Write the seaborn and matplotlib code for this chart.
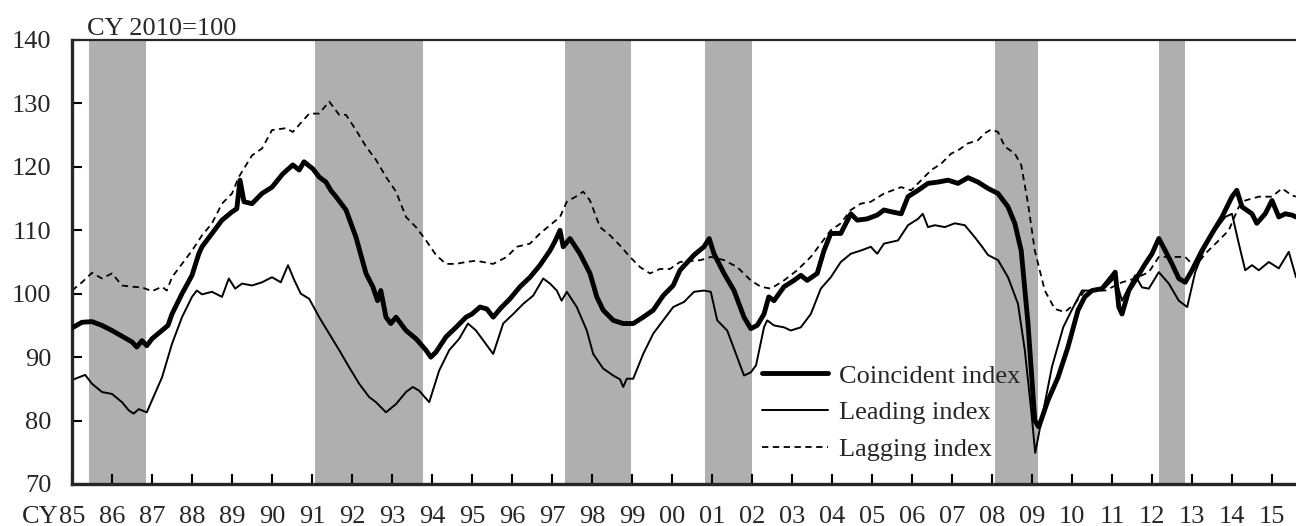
import numpy as np
import pandas as pd
import matplotlib
matplotlib.use("Agg")
import matplotlib.pyplot as plt
import seaborn as sns

# coincident index (decimal year, value)
coin_year = [1985.0, 1985.25, 1985.5, 1985.75, 1986.0, 1986.25, 1986.5, 1986.62, 1986.75, 1986.87,
             1987.0, 1987.25, 1987.4, 1987.5, 1987.75, 1988.0, 1988.17, 1988.25, 1988.5, 1988.75,
             1989.0, 1989.12, 1989.2, 1989.3, 1989.5, 1989.75, 1990.0, 1990.27, 1990.52, 1990.68,
             1990.8, 1991.02, 1991.18, 1991.35, 1991.47, 1991.6, 1991.85, 1992.1, 1992.35, 1992.52,
             1992.64, 1992.72, 1992.85, 1992.97, 1993.1, 1993.35, 1993.6, 1993.85, 1993.97, 1994.1,
             1994.35, 1994.6, 1994.85, 1995.0, 1995.2, 1995.37, 1995.53, 1995.7, 1995.95, 1996.2,
             1996.45, 1996.7, 1996.95, 1997.07, 1997.2, 1997.28, 1997.45, 1997.7, 1997.95, 1998.12,
             1998.28, 1998.53, 1998.78, 1999.03, 1999.28, 1999.53, 1999.78, 2000.03, 2000.2, 2000.55,
             2000.8, 2000.93, 2001.05, 2001.3, 2001.55, 2001.8, 2001.97, 2002.13, 2002.3, 2002.42,
             2002.55, 2002.8, 2003.05, 2003.22, 2003.38, 2003.63, 2003.8, 2003.97, 2004.22, 2004.47,
             2004.63, 2004.88, 2005.13, 2005.3, 2005.5, 2005.73, 2005.9, 2006.15, 2006.4, 2006.65,
             2006.9, 2007.15, 2007.4, 2007.65, 2007.9, 2008.15, 2008.4, 2008.57, 2008.73, 2008.9,
             2009.07, 2009.17, 2009.4, 2009.65, 2009.9, 2010.15, 2010.32, 2010.5, 2010.75, 2010.92,
             2011.08, 2011.17, 2011.25, 2011.42, 2011.58, 2011.83, 2012.0, 2012.17, 2012.33, 2012.5,
             2012.67, 2012.83, 2013.0, 2013.25, 2013.5, 2013.75, 2014.0, 2014.12, 2014.25, 2014.5,
             2014.62, 2014.83, 2015.0, 2015.17, 2015.33, 2015.5, 2015.6]
coin_val = [94.6, 95.5, 95.6, 95.0, 94.2, 93.3, 92.4, 91.6, 92.6, 91.8,
            92.9, 94.2, 95.0, 96.8, 100.0, 102.9, 106.3, 107.4, 109.5, 111.6,
            112.9, 113.4, 117.9, 114.5, 114.2, 115.8, 116.8, 118.9, 120.3, 119.5,
            120.8, 119.7, 118.4, 117.6, 116.3, 115.3, 113.2, 108.9, 103.2, 101.1,
            98.9, 100.5, 96.3, 95.3, 96.3, 94.2, 92.9, 91.1, 90.0, 90.8,
            93.2, 94.7, 96.3, 96.8, 97.9, 97.6, 96.3, 97.6, 99.2, 101.1,
            102.6, 104.5, 106.8, 108.2, 110.0, 107.4, 108.7, 106.3, 103.2, 99.5,
            97.4, 95.8, 95.3, 95.3, 96.3, 97.4, 99.7, 101.3, 103.7, 106.1,
            107.4, 108.7, 106.3, 103.2, 100.5, 96.3, 94.5, 95.0, 96.8, 99.5,
            98.9, 101.1, 102.1, 102.9, 102.1, 103.2, 106.8, 109.5, 109.5, 112.6,
            111.6, 111.8, 112.4, 113.2, 112.9, 112.6, 115.3, 116.3, 117.4, 117.6,
            117.9, 117.4, 118.3, 117.6, 116.6, 115.8, 113.7, 111.1, 106.8, 95.3,
            80.0, 79.0, 83.2, 86.8, 91.6, 97.4, 99.5, 100.5, 100.8, 102.1,
            103.4, 97.9, 96.8, 100.5, 102.1, 104.7, 106.3, 108.7, 106.8, 104.7,
            102.4, 101.8, 103.7, 106.8, 109.5, 112.1, 115.3, 116.3, 113.7, 112.6,
            111.1, 112.6, 114.7, 112.1, 112.6, 112.4, 112.1]

# leading index
lead_year = [1985.0, 1985.33, 1985.5, 1985.75, 1986.0, 1986.25, 1986.42, 1986.54, 1986.67, 1986.87,
             1987.0, 1987.25, 1987.5, 1987.75, 1988.0, 1988.12, 1988.25, 1988.5, 1988.75, 1988.92,
             1989.08, 1989.25, 1989.5, 1989.75, 1990.0, 1990.22, 1990.4, 1990.56, 1990.72, 1990.93,
             1991.18, 1991.43, 1991.68, 1991.93, 1992.18, 1992.43, 1992.6, 1992.85, 1993.1, 1993.35,
             1993.52, 1993.68, 1993.93, 1994.18, 1994.43, 1994.68, 1994.9, 1995.1, 1995.53, 1995.78,
             1996.03, 1996.28, 1996.53, 1996.78, 1996.95, 1997.12, 1997.24, 1997.37, 1997.62, 1997.87,
             1998.03, 1998.28, 1998.53, 1998.7, 1998.78, 1998.87, 1999.03, 1999.28, 1999.53, 1999.78,
             2000.03, 2000.3, 2000.55, 2000.8, 2000.97, 2001.13, 2001.38, 2001.63, 2001.8, 2001.97,
             2002.1, 2002.3, 2002.38, 2002.55, 2002.8, 2002.97, 2003.22, 2003.47, 2003.72, 2003.97,
             2004.22, 2004.47, 2004.72, 2004.97, 2005.13, 2005.3, 2005.65, 2005.9, 2006.15, 2006.27,
             2006.4, 2006.57, 2006.82, 2007.07, 2007.32, 2007.57, 2007.73, 2007.9, 2008.15, 2008.4,
             2008.65, 2008.82, 2008.98, 2009.08, 2009.25, 2009.5, 2009.78, 2010.0, 2010.25, 2010.5,
             2010.83, 2011.08, 2011.25, 2011.42, 2011.58, 2011.75, 2011.92, 2012.17, 2012.42, 2012.67,
             2012.88, 2013.08, 2013.33, 2013.58, 2013.83, 2014.0, 2014.17, 2014.33, 2014.5, 2014.67,
             2014.92, 2015.17, 2015.42, 2015.6]
lead_val = [86.4, 87.2, 85.8, 84.5, 84.2, 82.9, 81.6, 81.1, 81.8, 81.3,
            83.2, 86.8, 92.1, 96.3, 99.5, 100.5, 99.9, 100.3, 99.5, 102.4,
            100.8, 101.6, 101.3, 101.8, 102.6, 101.8, 104.5, 102.1, 100.0, 99.2,
            96.3, 93.7, 91.1, 88.4, 85.8, 83.7, 82.9, 81.3, 82.6, 84.5,
            85.3, 84.7, 82.9, 87.9, 91.1, 92.9, 95.3, 94.2, 90.5, 95.3,
            96.8, 98.4, 99.7, 102.4, 101.6, 100.5, 98.9, 100.3, 97.9, 94.2,
            90.5, 88.2, 87.1, 86.5, 85.3, 86.6, 86.6, 90.5, 93.7, 95.8,
            97.9, 98.7, 100.3, 100.5, 100.3, 95.8, 94.2, 90.0, 87.1, 87.6,
            88.7, 94.7, 95.8, 95.0, 94.7, 94.2, 94.7, 96.8, 100.8, 102.6,
            105.0, 106.3, 106.8, 107.4, 106.3, 107.9, 108.4, 110.8, 111.8, 112.6,
            110.5, 110.8, 110.5, 111.1, 110.8, 108.9, 107.6, 106.1, 105.3, 102.6,
            98.4, 91.1, 81.6, 74.9, 80.5, 88.5, 94.7, 97.5, 100.5, 100.5,
            101.0, 102.6, 98.9, 101.0, 102.9, 101.0, 100.8, 103.4, 101.6, 98.9,
            97.9, 103.4, 107.4, 110.0, 112.1, 112.6, 107.9, 103.7, 104.5, 103.7,
            105.0, 104.0, 106.6, 102.6]

# lagging index
lag_year = [1985.0, 1985.25, 1985.5, 1985.75, 1986.0, 1986.25, 1986.5, 1986.75, 1987.0, 1987.25,
            1987.37, 1987.5, 1987.75, 1988.0, 1988.25, 1988.5, 1988.75, 1989.0, 1989.17, 1989.5,
            1989.75, 1990.0, 1990.35, 1990.52, 1990.93, 1991.18, 1991.43, 1991.68, 1991.85, 1992.1,
            1992.35, 1992.6, 1992.85, 1993.1, 1993.35, 1993.6, 1993.85, 1994.1, 1994.35, 1994.6,
            1994.85, 1995.1, 1995.53, 1995.87, 1996.12, 1996.45, 1996.7, 1996.95, 1997.2, 1997.37,
            1997.62, 1997.78, 1997.95, 1998.2, 1998.45, 1998.7, 1998.95, 1999.2, 1999.45, 1999.7,
            1999.95, 2000.2, 2000.72, 2000.97, 2001.3, 2001.63, 2001.97, 2002.22, 2002.47, 2002.8,
            2003.13, 2003.47, 2003.72, 2003.97, 2004.22, 2004.47, 2004.72, 2004.97, 2005.3, 2005.73,
            2005.98, 2006.23, 2006.48, 2006.73, 2006.98, 2007.15, 2007.4, 2007.65, 2007.82, 2007.98,
            2008.15, 2008.32, 2008.57, 2008.73, 2008.9, 2009.07, 2009.32, 2009.57, 2009.82, 2010.07,
            2010.32, 2010.5, 2010.83, 2011.25, 2011.58, 2011.92, 2012.17, 2012.5, 2012.83, 2013.08,
            2013.33, 2013.67, 2013.92, 2014.17, 2014.33, 2014.67, 2015.0, 2015.25, 2015.5, 2015.6]
lag_val = [100.5, 101.8, 103.3, 102.4, 103.2, 101.3, 101.1, 101.0, 100.4, 101.1,
           100.5, 102.6, 104.7, 106.8, 109.2, 111.1, 114.2, 115.8, 118.4, 121.8,
           122.9, 125.8, 126.1, 125.5, 128.4, 128.4, 130.3, 128.2, 128.2, 125.8,
           123.2, 121.1, 118.4, 116.1, 112.1, 110.5, 108.4, 106.1, 104.7, 104.7,
           105.0, 105.2, 104.7, 105.8, 107.4, 107.9, 109.5, 110.8, 112.1, 114.5,
           115.4, 116.1, 114.7, 110.5, 109.2, 107.6, 105.8, 104.2, 103.2, 103.9,
           103.9, 105.0, 105.3, 105.8, 105.3, 104.2, 102.1, 101.1, 100.8, 102.1,
           103.7, 105.8, 107.9, 110.0, 111.1, 113.2, 114.2, 114.5, 115.8, 116.8,
           116.3, 117.9, 119.5, 120.5, 122.1, 122.6, 123.7, 124.2, 125.3, 125.9,
           125.5, 123.2, 122.1, 120.3, 114.2, 106.8, 100.5, 97.6, 97.1, 98.4,
           100.5, 100.5, 100.5, 101.8, 102.4, 103.4, 105.8, 105.8, 105.8, 104.2,
           106.3, 108.4, 110.0, 113.7, 114.7, 115.3, 115.3, 116.6, 115.5, 115.3]

# recession periods (peak, trough)
rec_start = [1985.42, 1991.08, 1997.33, 2000.83, 2008.08, 2012.17]
rec_end = [1986.85, 1993.77, 1998.98, 2001.99, 2009.16, 2012.82]

years = list(range(1985, 2016))
year_labels = ["%02d" % (y % 100) for y in years]

coin = pd.DataFrame({"year": coin_year, "value": coin_val})
lead = pd.DataFrame({"year": lead_year, "value": lead_val})
lag = pd.DataFrame({"year": lag_year, "value": lag_val})

sns.set_style("ticks")
plt.rcParams["font.family"] = ["Liberation Serif", "DejaVu Serif"]
fs = 19

fig = plt.figure(figsize=(12.96, 5.26), dpi=100)
ax = fig.add_axes([72 / 1296, 42 / 526, 1224 / 1296, 444 / 526])

for s, e in zip(rec_start, rec_end):
    ax.axvspan(s, e, color="#afafaf", lw=0, zorder=0)

sns.lineplot(data=coin, x="year", y="value", ax=ax, color="black", lw=3.5,
             label="Coincident index", zorder=3)
sns.lineplot(data=lead, x="year", y="value", ax=ax, color="black", lw=1.4,
             label="Leading index", zorder=2)
sns.lineplot(data=lag, x="year", y="value", ax=ax, color="black", lw=1.3,
             ls=(0, (3.5, 2.5)), label="Lagging index", zorder=2)

ax.set_xlim(1985, 2015.6)
ax.set_ylim(70, 140)
ax.set_yticks(range(70, 141, 10))
ax.set_xticks(years)
ax.set_xticklabels(year_labels)
ax.set_xlabel("")
ax.set_ylabel("")

for side in ["left", "bottom"]:
    ax.spines[side].set_linewidth(2.4)
ax.spines["top"].set_linewidth(1.6)
ax.spines["right"].set_visible(False)
ax.tick_params(axis="both", direction="in", length=7, width=1.5, labelsize=fs, color="black")
ax.tick_params(axis="y", pad=15)
ax.tick_params(axis="x", pad=16)

ax.annotate("CY", xy=(1985, 0), xycoords=("data", "axes fraction"), xytext=(-10, -16),
            textcoords="offset points", ha="right", va="top", fontsize=fs)
ax.text(0.012, 1.0, "CY 2010=100", transform=ax.transAxes, ha="left", va="bottom", fontsize=fs)

ax.legend(loc="lower left", bbox_to_anchor=(0.553, 0.022), frameon=False, fontsize=fs,
          handlelength=2.5, handletextpad=0.4, labelspacing=0.5, borderpad=0)

fig.savefig("out.png", dpi=100)
